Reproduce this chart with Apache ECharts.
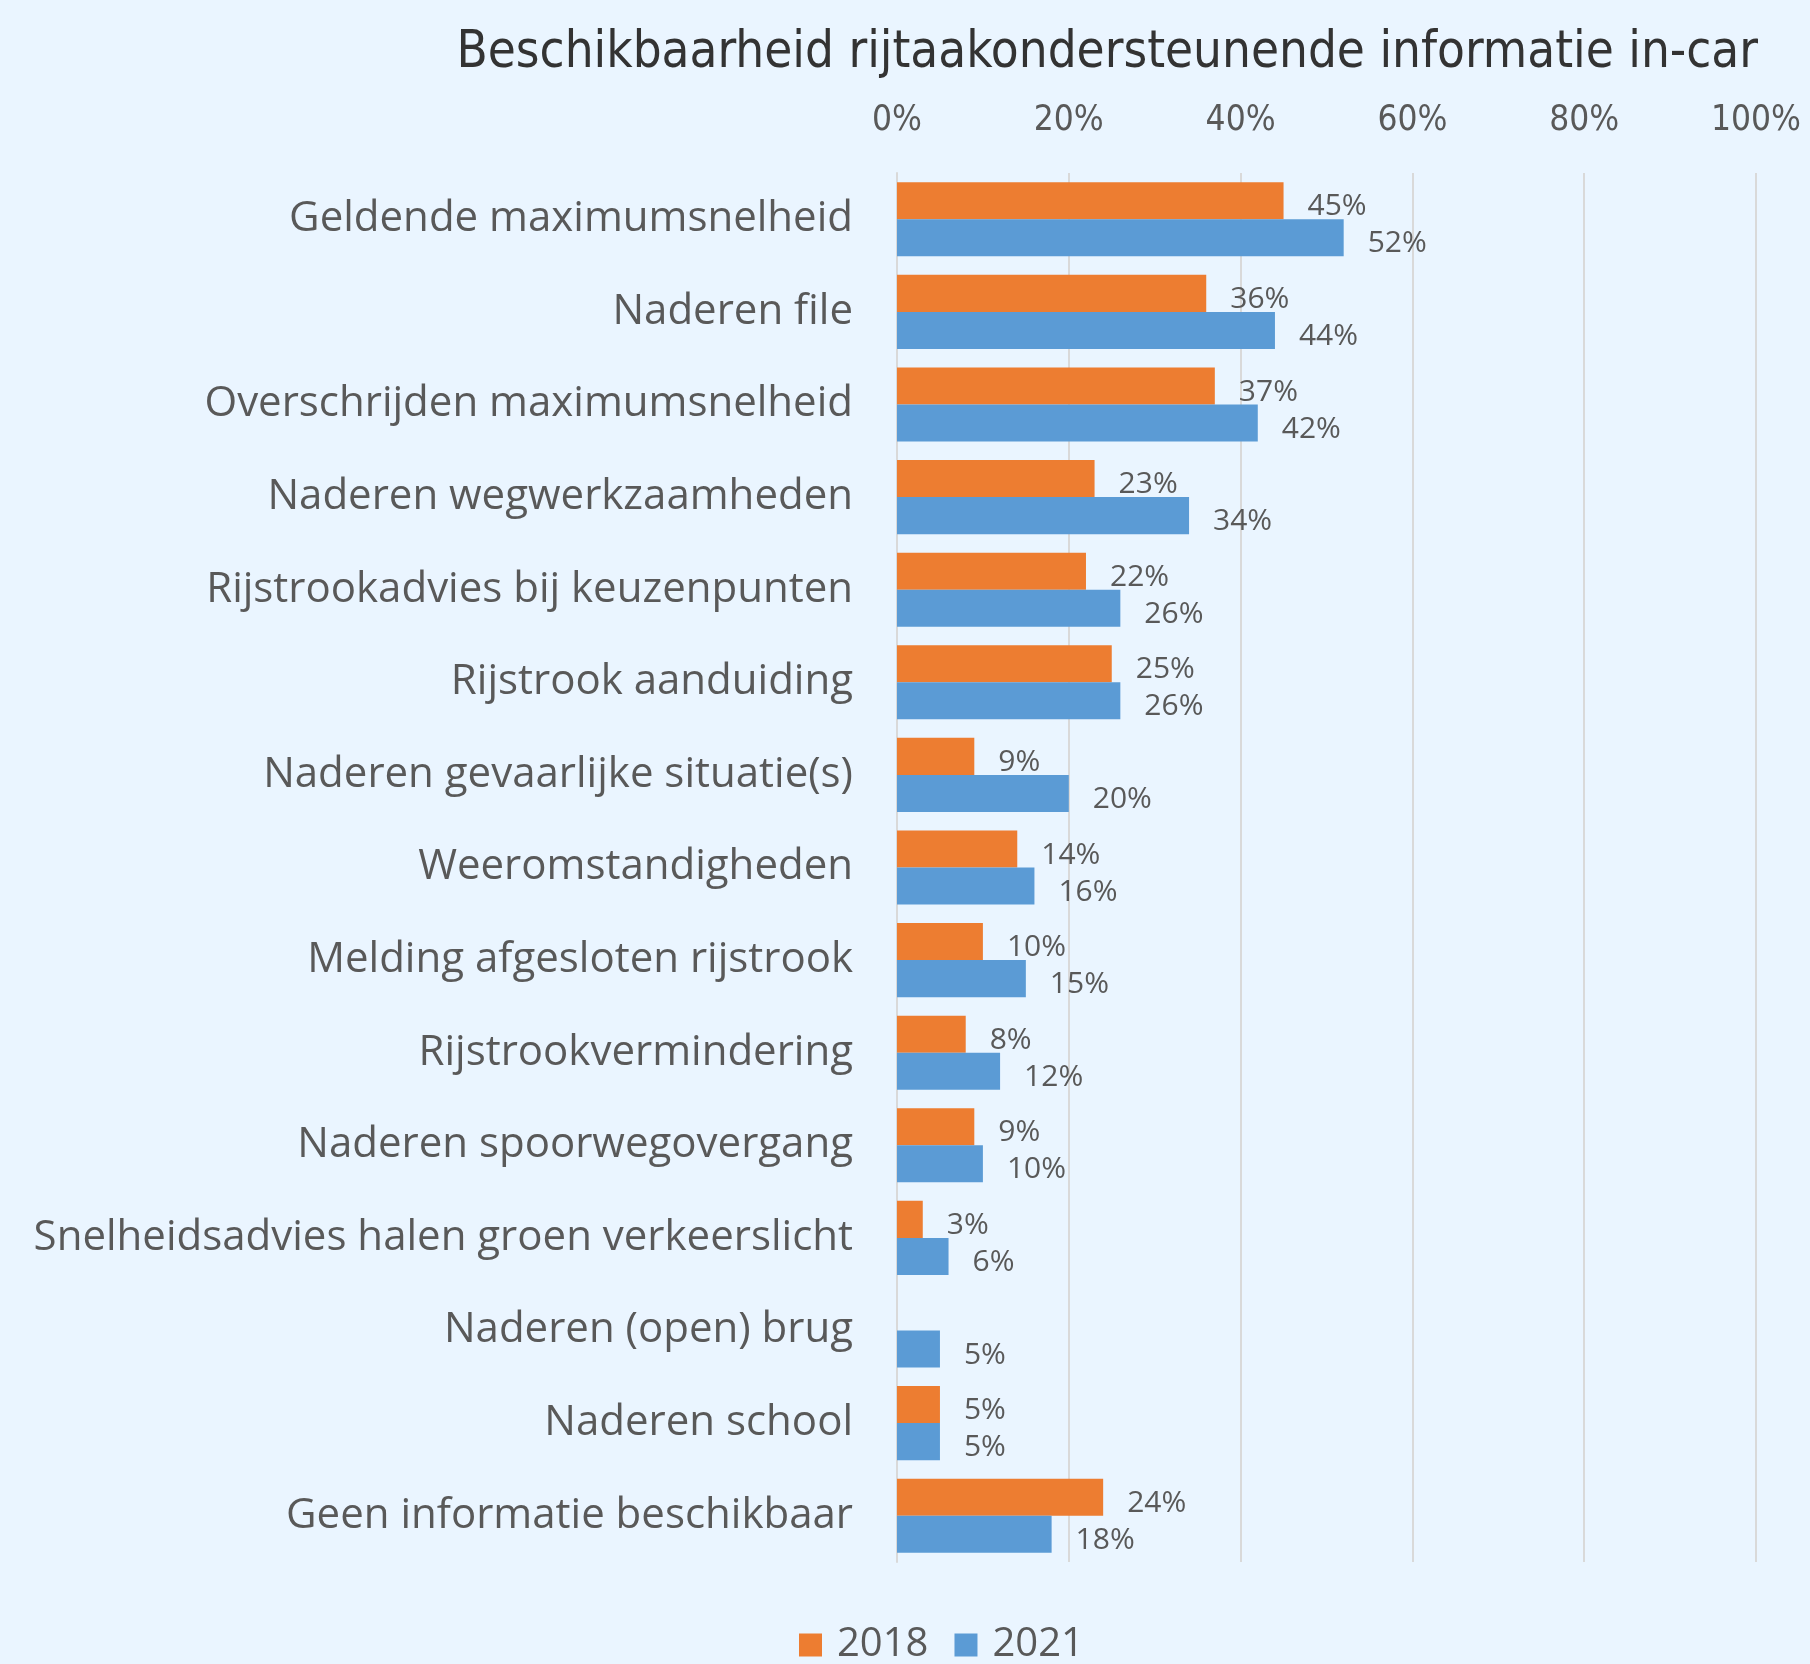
<!DOCTYPE html>
<html>
<head>
<meta charset="utf-8">
<script src="https://cdn.jsdelivr.net/npm/echarts@6/dist/echarts.min.js"></script>
<style>
  html, body { margin: 0; padding: 0; background: #EAF5FF; }
  #chart { width: 1810px; height: 1664px; }
</style>
</head>
<body>
<div id="chart"></div>
<script>
// Availability of in-car driving-task support information, share of respondents
const categories = [
  'Geldende maximumsnelheid',
  'Naderen file',
  'Overschrijden maximumsnelheid',
  'Naderen wegwerkzaamheden',
  'Rijstrookadvies bij keuzenpunten',
  'Rijstrook aanduiding',
  'Naderen gevaarlijke situatie(s)',
  'Weeromstandigheden',
  'Melding afgesloten rijstrook',
  'Rijstrookvermindering',
  'Naderen spoorwegovergang',
  'Snelheidsadvies halen groen verkeerslicht',
  'Naderen (open) brug',
  'Naderen school',
  'Geen informatie beschikbaar'
];
const values2018 = [45, 36, 37, 23, 22, 25, 9, 14, 10, 8, 9, 3, null, 5, 24];
const values2021 = [52, 44, 42, 34, 26, 26, 20, 16, 15, 12, 10, 6, 5, 5, 18];
const seriesNames = ['2018', '2021'];
const xTicks = [0, 20, 40, 60, 80, 100];

const textColor = '#595959';
const uiFont = "'Open Sans', 'Noto Sans', sans-serif";
const narrowFont = "'Liberation Sans Narrow', 'DejaVu Sans Condensed', 'Open Sans', sans-serif";

const chart = echarts.init(document.getElementById('chart'), null, { renderer: 'canvas' });

function barSeries(name, data, color) {
  return {
    name: name,
    type: 'bar',
    data: data,
    barGap: '0%',
    barCategoryGap: '20%',
    itemStyle: { color: color },
    label: {
      show: true,
      position: 'right',
      distance: 24,
      offset: [0, 6],
      color: textColor,
      fontFamily: uiFont,
      fontSize: 30,
      formatter: p => p.value == null ? '' : p.value + '%'
    }
  };
}

chart.setOption({
  backgroundColor: '#EAF5FF',
  animation: false,
  title: {
    text: 'Beschikbaarheid rijtaakondersteunende informatie in-car',
    right: 47,
    top: 23,
    textStyle: { color: '#333333', fontFamily: narrowFont, fontWeight: 'normal', fontSize: 50.7 }
  },
  legend: {
    data: seriesNames,
    bottom: -6,
    left: 794,
    itemWidth: 23,
    itemHeight: 23,
    itemGap: 26,
    icon: 'rect',
    textStyle: { color: textColor, fontFamily: uiFont, fontSize: 40, padding: [0, 0, 0, 10] }
  },
  grid: { left: 897, right: 54, top: 173, bottom: 102, containLabel: false },
  xAxis: {
    type: 'value',
    position: 'top',
    min: xTicks[0],
    max: xTicks[xTicks.length - 1],
    interval: 20,
    axisLine: { show: false },
    axisTick: { show: false },
    splitLine: { show: true, lineStyle: { color: '#D9D9D9', width: 2 } },
    axisLabel: {
      formatter: v => v + '%',
      color: textColor,
      fontFamily: narrowFont,
      fontSize: 35,
      margin: 35
    }
  },
  yAxis: {
    type: 'category',
    data: categories,
    inverse: true,
    axisLine: { show: true, lineStyle: { color: '#D9D9D9', width: 2 } },
    axisTick: { show: false },
    axisLabel: {
      color: textColor,
      fontFamily: uiFont,
      fontSize: 42,
      margin: 44
    }
  },
  series: [
    barSeries(seriesNames[0], values2018, '#ED7D31'),
    barSeries(seriesNames[1], values2021, '#5B9BD5')
  ]
});
</script>
</body>
</html>
